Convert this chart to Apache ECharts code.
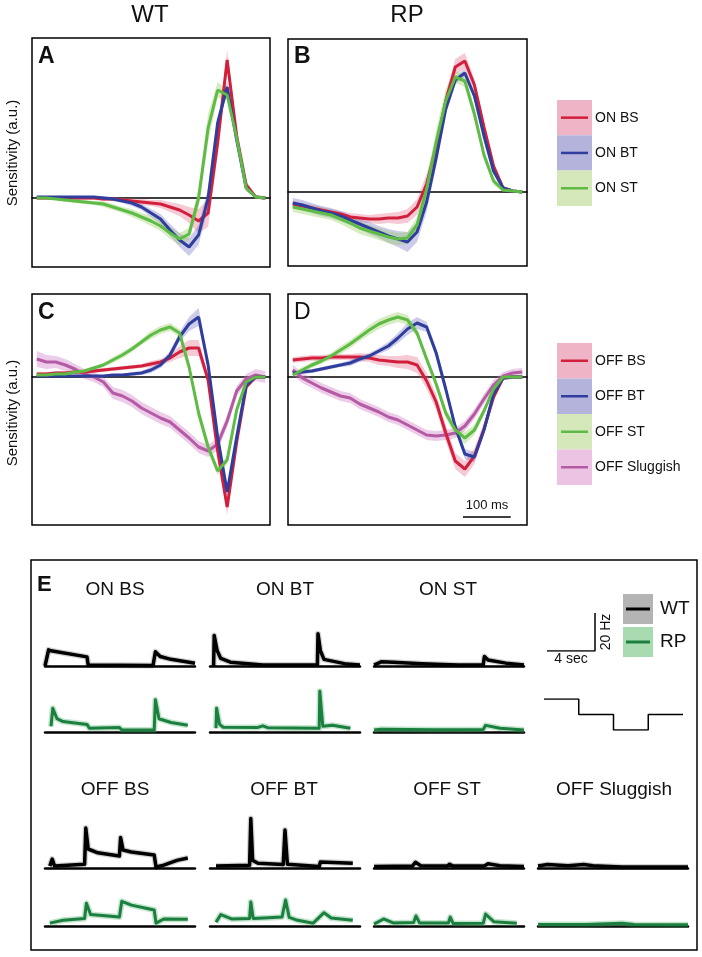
<!DOCTYPE html>
<html>
<head>
<meta charset="utf-8">
<script src="https://cdn.jsdelivr.net/npm/echarts/dist/echarts.min.js"></script>
<style>
  html, body { margin: 0; padding: 0; background: #fff; }
  #chart { width: 702px; height: 957px; }
</style>
</head>
<body>
<div id="chart"></div>
<script>
var chart = echarts.init(document.getElementById('chart'));
var FONT = '"Liberation Sans", Arial, Helvetica, sans-serif';

// time before spike (ms) for the filters
var tGrid = [-490,-470,-450,-430,-410,-390,-370,-350,-330,-310,-290,-270,-250,-230,-210,-190,-170,-150,-130,-110,-90,-70,-50,-30,-10];

// A: WT ON cells
var aBS = [0,0,0,0,0,0,0,-1,-1,-2,-3,-4,-5,-6,-9,-12,-17,-23,-15,55,138,62,13,1,0];
var aBT = [1,1,1,1,1,1,1,0,-1,-3,-5,-9,-15,-21,-32,-42,-49,-37,0,75,111,58,10,1,0];
var aST = [0,0,-1,-2,-3,-4,-5,-6,-9,-12,-15,-19,-23,-28,-35,-41,-36,0,70,108,103,60,10,1,0];
var aBSsem = [2,2,2,2,2,2,2,2,2,2,3,3,3,4,5,6,8,12,14,10,10,8,4,2,2];
var aBTsem = [1,1,1,1,1,1,1,2,2,2,3,3,4,5,6,7,9,10,10,6,6,5,3,1,1];
var aSTsem = [1,1,1,2,2,2,2,3,3,3,4,4,5,5,6,6,6,10,14,8,5,5,3,1,1];

// B: RP ON cells
var bBS = [-12,-14,-16,-18,-20,-22,-25,-26,-27,-27,-26,-26,-24,-15,8,44,91,125,131,107,65,26,4,1,0];
var bBT = [-11,-13,-16,-19,-21,-24,-28,-32,-36,-40,-44,-47,-50,-40,-10,34,83,112,119,96,56,21,4,1,0];
var bST = [-15,-17,-19,-21,-23,-27,-31,-36,-39,-42,-45,-47,-46,-33,3,50,91,115,111,78,37,11,2,1,0];
var bBSsem = [3,3,3,3,3,3,4,4,4,5,5,6,7,8,10,10,8,8,8,6,5,4,2,1,1];
var bBTsem = [5,5,5,5,5,5,5,5,6,6,7,8,10,10,10,8,6,4,4,4,4,3,2,1,1];
var bSTsem = [5,5,5,5,5,5,6,6,6,6,6,6,6,8,10,12,12,6,6,6,5,4,2,1,1];

// C: WT OFF cells
var cBS = [3,3,4,4,5,5,6,7,8,9,10,11,13,15,19,25,29,29,-3,-74,-130,-65,-10,0,0];
var cBT = [1,1,1,1,1,1,1,1,2,2,3,4,7,12,22,40,53,60,12,-60,-115,-60,-8,0,0];
var cST = [2,2,3,3,5,6,9,12,17,22,28,35,42,47,50,44,10,-36,-70,-94,-83,-33,-5,0,0];
var cSL = [18,15,15,12,8,3,0,-5,-16,-19,-24,-31,-36,-41,-45,-53,-61,-70,-74,-67,-44,-14,-2,2,0];
var cBSsem = [2,2,2,2,2,2,2,2,2,2,2,2,3,3,4,6,8,8,4,6,8,6,3,1,1];
var cBTsem = [1,1,1,1,1,1,1,1,1,1,2,2,3,3,4,5,7,9,6,6,6,5,3,1,1];
var cSTsem = [2,2,2,2,2,2,2,2,3,3,3,3,4,4,4,4,4,6,6,4,4,4,3,2,2];
var cSLsem = [8,7,6,6,5,5,5,5,6,6,6,6,6,6,6,6,6,6,6,6,6,5,5,6,6];

// D: RP OFF cells
var dBS = [17,18,19,19,20,20,20,20,19,17,16,15,15,12,-4,-25,-56,-84,-92,-79,-52,-20,-1,0,0];
var dBT = [4,5,6,8,10,12,14,18,21,26,31,39,48,54,50,24,-12,-50,-77,-80,-53,-17,-1,0,0];
var dST = [2,7,12,16,21,27,33,40,47,53,57,60,57,44,18,-7,-36,-53,-61,-53,-34,-12,0,0,0];
var dSL = [7,-1,-6,-11,-15,-19,-21,-27,-31,-35,-40,-43,-48,-53,-58,-59,-58,-56,-49,-37,-22,-8,1,4,5];
var dBSsem = [3,3,3,3,3,3,3,4,4,5,5,6,7,8,8,8,8,8,8,8,6,4,2,2,2];
var dBTsem = [2,2,2,2,2,2,3,3,3,3,4,5,6,6,5,5,5,5,5,5,4,3,2,2,2];
var dSTsem = [2,3,3,3,3,4,4,4,5,5,5,5,5,4,4,4,5,6,6,5,4,3,2,2,2];
var dSLsem = [5,5,5,5,5,5,5,5,5,5,5,5,5,5,5,5,5,5,5,5,5,5,4,4,4];

// E: firing rate (t in s, Hz)
var onBsWt  = [[0,0],[0.3,8.5],[0.5,8],[3.5,4.8],[3.6,0.5],[9.0,0.3],[9.2,7.5],[9.6,5],[10.5,3.5],[12.5,1.5]];
var onBsRp  = [[0.5,3],[0.65,12.5],[1.0,7],[1.5,5.5],[3.5,4],[3.7,2],[6.2,2.4],[6.4,1],[9.1,1],[9.2,17],[9.5,7],[10.5,5],[11.9,3.5]];
var onBtWt  = [[0.3,0],[0.35,16],[0.6,8],[0.9,4],[1.7,2],[4.4,0.5],[8.95,0.5],[9.0,17],[9.2,8],[9.5,3.5],[11.4,1],[12.5,0.5]];
var onBtRp  = [[0.5,2],[0.55,12.5],[0.8,4],[1.1,2.5],[4.0,2.4],[4.4,3.2],[4.8,2.3],[9.1,2],[9.15,21.5],[9.4,3],[10.2,3.6],[11.7,2]];
var onStWt  = [[0,0.5],[0.6,2.2],[1.6,2],[4,1.2],[7,0.5],[9.1,0.6],[9.2,5],[9.5,3.2],[11,1.5],[12.5,0.5]];
var onStRp  = [[0,1],[0.6,1.5],[5,1.2],[9.1,1.3],[9.3,3.5],[10.5,2],[12.5,1]];
var offBsWt = [[0.4,1],[0.6,4.7],[0.8,1],[3.3,2],[3.4,21],[3.6,10],[4.4,8],[6.2,6.3],[6.3,16],[6.5,9.5],[7.2,8.4],[9.1,6.8],[9.25,0.5],[9.9,1.5],[11,4],[11.9,5.3]];
var offBsRp = [[0.4,1.5],[1.5,3],[3.3,4],[3.45,12],[3.8,6],[6.2,4.7],[6.4,13],[7.2,11],[9.1,8.4],[9.25,1.5],[9.9,3.7],[11.9,3.5]];
var offBtWt = [[0.5,1],[3.3,1.5],[3.4,26],[3.55,4],[4,2.5],[6.1,1.8],[6.25,20],[6.45,2],[9.1,0.8],[9.2,3.2],[11.9,2.5]];
var offBtRp = [[0.5,2],[0.9,6],[1.8,3.7],[3.3,4],[3.4,12.6],[3.6,4],[4.5,4.2],[6.0,4.7],[6.3,13.7],[6.6,4.5],[7.3,3],[8.6,1.5],[9.5,7],[10.1,4.2],[11.9,3]];
var offStWt = [[0,0.8],[3.2,1],[3.45,3],[3.9,1.2],[6.1,1],[6.3,2],[6.6,1],[9.2,1],[9.5,2.2],[10.5,1.2],[12.5,0.8]];
var offStRp = [[0,1],[0.8,3.7],[1.6,1.6],[3.3,1.8],[3.5,5.3],[3.8,1.6],[6.2,1.6],[6.35,4.7],[6.6,1.3],[9.1,1.4],[9.3,6.3],[10,2.2],[11.9,1.5]];
var offSlWt = [[0,1],[0.8,1.8],[2.5,1.2],[3.8,1.8],[4.6,1.2],[7,0.5],[12.5,0.5]];
var offSlRp = [[0,0.8],[4,0.8],[7,1.5],[8,0.8],[12.5,0.6]];

// light steps: time (s), level
var stimSteps = [[0,2],[2.9,1],[5.8,0],[8.7,1],[11.6,1]];

var RED = '#d21f3c', BLUE = '#2f3d9c', GREEN = '#5dbb46', MAG = '#b55aa5';
var RED_B = 'rgba(226,90,125,0.32)', BLUE_B = 'rgba(95,95,190,0.32)';
var GREEN_B = 'rgba(150,205,95,0.38)', MAG_B = 'rgba(205,120,195,0.38)';
var WT_C = '#000000', RP_C = '#1b7f3f';

var grids = [], xAxes = [], yAxes = [], series = [];

function addGrid(g, x, y) {
    grids.push(g);
    x.gridIndex = grids.length - 1;
    y.gridIndex = grids.length - 1;
    xAxes.push(x); yAxes.push(y);
    return grids.length - 1;
}
var hidden = { show: false };

function filterPanel(box, ymin, ymax, curves) {
    var gi = addGrid(
        { left: box[0], top: box[1], width: box[2], height: box[3], show: true,
          borderColor: '#000', borderWidth: 1.5, backgroundColor: 'transparent' },
        { type: 'value', min: -500, max: 0,
          axisLine: { show: true, onZero: true, lineStyle: { color: '#000', width: 1.5 } },
          axisTick: hidden, axisLabel: hidden, splitLine: hidden },
        { type: 'value', min: ymin, max: ymax, axisLine: hidden, axisTick: hidden,
          axisLabel: hidden, splitLine: hidden }
    );
    curves.forEach(function (c) {
        var v = c[0], s = c[1];
        series.push({
            type: 'custom', xAxisIndex: gi, yAxisIndex: gi, z: 1, silent: true,
            data: tGrid.map(function (t, i) { return [t, v[i] - s[i], v[i] + s[i]]; }),
            renderItem: function (params, api) {
                if (params.dataIndex !== 0) return;
                var up = [], dn = [];
                for (var i = 0; i < tGrid.length; i++) {
                    up.push(api.coord([tGrid[i], v[i] + s[i]]));
                    dn.push(api.coord([tGrid[i], v[i] - s[i]]));
                }
                return { type: 'polygon', shape: { points: up.concat(dn.reverse()) },
                         style: { fill: c[3] } };
            }
        });
    });
    curves.forEach(function (c) {
        series.push({
            type: 'line', xAxisIndex: gi, yAxisIndex: gi, z: 3, showSymbol: false, silent: true,
            data: tGrid.map(function (t, i) { return [t, c[0][i]]; }),
            lineStyle: { color: c[2], width: 3 }
        });
    });
    return gi;
}

filterPanel([32, 38, 238, 229], -69, 160,
    [[aBS, aBSsem, RED, RED_B], [aBT, aBTsem, BLUE, BLUE_B], [aST, aSTsem, GREEN, GREEN_B]]);
filterPanel([288, 39, 239, 227], -74, 153,
    [[bBS, bBSsem, RED, RED_B], [bBT, bBTsem, BLUE, BLUE_B], [bST, bSTsem, GREEN, GREEN_B]]);
filterPanel([32, 294, 238, 231], -148, 83,
    [[cSL, cSLsem, MAG, MAG_B], [cBS, cBSsem, RED, RED_B], [cBT, cBTsem, BLUE, BLUE_B], [cST, cSTsem, GREEN, GREEN_B]]);
var gD = filterPanel([288, 294, 239, 231], -148, 83,
    [[dSL, dSLsem, MAG, MAG_B], [dBS, dBSsem, RED, RED_B], [dBT, dBTsem, BLUE, BLUE_B], [dST, dSTsem, GREEN, GREEN_B]]);

// 100 ms scale bar in D
series.push({ type: 'line', xAxisIndex: gD, yAxisIndex: gD, showSymbol: false, silent: true, z: 4,
    data: [[-134, -140], [-34, -140]], lineStyle: { color: '#000', width: 1.5 } });

// E traces
function trace(left, base, data, color, halo, w) {
    var gi = addGrid(
        { left: left, top: base - 66.5, width: 150, height: 66.5, show: false },
        { type: 'value', min: 0, max: 12.5,
          axisLine: { show: true, lineStyle: { color: '#000', width: 2.5 } },
          axisTick: hidden, axisLabel: hidden, splitLine: hidden },
        { type: 'value', min: 0, max: 35, axisLine: hidden, axisTick: hidden,
          axisLabel: hidden, splitLine: hidden }
    );
    series.push({ type: 'line', xAxisIndex: gi, yAxisIndex: gi, showSymbol: false, silent: true, z: 2,
        data: data, lineStyle: { color: halo, width: 6, join: 'round' } });
    series.push({ type: 'line', xAxisIndex: gi, yAxisIndex: gi, showSymbol: false, silent: true, z: 3,
        data: data, lineStyle: { color: color, width: w, join: 'round' } });
}
var WT_H = 'rgba(0,0,0,0.18)', RP_H = 'rgba(60,170,90,0.3)';
trace(45, 666, onBsWt, WT_C, WT_H, 3.5);
trace(210, 666, onBtWt, WT_C, WT_H, 3.5);
trace(374, 666, onStWt, WT_C, WT_H, 3.5);
trace(45, 732, onBsRp, RP_C, RP_H, 3);
trace(210, 732, onBtRp, RP_C, RP_H, 3);
trace(374, 732, onStRp, RP_C, RP_H, 3);
trace(45, 868, offBsWt, WT_C, WT_H, 3.5);
trace(210, 868, offBtWt, WT_C, WT_H, 3.5);
trace(374, 868, offStWt, WT_C, WT_H, 3.5);
trace(538, 868, offSlWt, WT_C, WT_H, 3.5);
trace(45, 926, offBsRp, RP_C, RP_H, 3);
trace(210, 926, offBtRp, RP_C, RP_H, 3);
trace(374, 926, offStRp, RP_C, RP_H, 3);
trace(538, 926, offSlRp, RP_C, RP_H, 3);

// stimulus
var gS = addGrid({ left: 544, top: 699, width: 139, height: 31, show: false },
    { type: 'value', min: 0, max: 11.6, show: false },
    { type: 'value', min: 0, max: 2, show: false });
series.push({ type: 'line', xAxisIndex: gS, yAxisIndex: gS, step: 'end', showSymbol: false, silent: true,
    data: stimSteps, lineStyle: { color: '#000', width: 1.5 } });

// 4 sec / 20 Hz scale bar, same scale as traces
var gB = addGrid({ left: 547, top: 613, width: 48, height: 38, show: false },
    { type: 'value', min: -4, max: 0, show: false },
    { type: 'value', min: 0, max: 20, show: false });
series.push({ type: 'line', xAxisIndex: gB, yAxisIndex: gB, showSymbol: false, silent: true,
    data: [[-4, 0], [0, 0], [0, 20]], lineStyle: { color: '#000', width: 1.5 } });

function txt(x, y, s, size, opts) {
    opts = opts || {};
    return { type: 'text', x: x, y: y, rotation: opts.rot || 0, z: 10,
        style: { text: s, fill: '#111', font: (opts.bold ? 'bold ' : '') + size + 'px ' + FONT,
                 textAlign: opts.align || 'center', textVerticalAlign: 'middle' } };
}
function legendBlock(top, h, items) {
    var out = [];
    items.forEach(function (it, i) {
        var y = top + i * h;
        out.push({ type: 'rect', z: 5, shape: { x: 557, y: y, width: 35, height: h }, style: { fill: it[2] } });
        out.push({ type: 'line', z: 6, shape: { x1: 561, y1: y + h / 2, x2: 588, y2: y + h / 2 },
                   style: { stroke: it[1], lineWidth: 2.5 } });
        out.push(txt(595, y + h / 2, it[0], 14, { align: 'left' }));
    });
    return out;
}

var graphics = [
    txt(150, 15, 'WT', 24),
    txt(407, 15, 'RP', 24),
    txt(13, 153, 'Sensitivity (a.u.)', 15, { rot: Math.PI / 2 }),
    txt(13, 413, 'Sensitivity (a.u.)', 15, { rot: Math.PI / 2 }),
    txt(38, 57, 'A', 23, { bold: true, align: 'left' }),
    txt(294, 57, 'B', 23, { bold: true, align: 'left' }),
    txt(38, 313, 'C', 23, { bold: true, align: 'left' }),
    txt(294, 313, 'D', 23, { align: 'left' }),
    txt(487, 505, '100 ms', 13),
    { type: 'rect', z: 5, shape: { x: 31, y: 560, width: 666, height: 390 },
      style: { fill: 'none', stroke: '#000', lineWidth: 1.5 } },
    txt(37, 585, 'E', 22, { bold: true, align: 'left' }),
    txt(115, 590, 'ON BS', 19),
    txt(285, 590, 'ON BT', 19),
    txt(448, 590, 'ON ST', 19),
    txt(115, 790, 'OFF BS', 19),
    txt(284, 790, 'OFF BT', 19),
    txt(447, 790, 'OFF ST', 19),
    txt(614, 790, 'OFF Sluggish', 19),
    txt(571, 659, '4 sec', 14),
    txt(606, 632, '20 Hz', 14, { rot: Math.PI / 2 }),
    { type: 'rect', z: 5, shape: { x: 623, y: 594, width: 30, height: 30 }, style: { fill: '#b4b4b4' } },
    { type: 'rect', z: 5, shape: { x: 623, y: 627, width: 30, height: 30 }, style: { fill: '#a9dbb1' } },
    { type: 'line', z: 6, shape: { x1: 626, y1: 609, x2: 650, y2: 609 }, style: { stroke: WT_C, lineWidth: 3 } },
    { type: 'line', z: 6, shape: { x1: 626, y1: 642, x2: 650, y2: 642 }, style: { stroke: RP_C, lineWidth: 3 } },
    txt(660, 609, 'WT', 19, { align: 'left' }),
    txt(660, 642, 'RP', 19, { align: 'left' })
].concat(
    legendBlock(100, 35.3, [['ON BS', RED, '#efb4c6'], ['ON BT', BLUE, '#b3b3dc'], ['ON ST', GREEN, '#d5e8b9']]),
    legendBlock(343, 35.5, [['OFF BS', RED, '#efb4c6'], ['OFF BT', BLUE, '#b3b3dc'],
                            ['OFF ST', GREEN, '#d5e8b9'], ['OFF Sluggish', MAG, '#ecc3e3']])
);

chart.setOption({
    backgroundColor: '#fff',
    animation: false,
    grid: grids,
    xAxis: xAxes,
    yAxis: yAxes,
    series: series,
    graphic: graphics
});
</script>
</body>
</html>
